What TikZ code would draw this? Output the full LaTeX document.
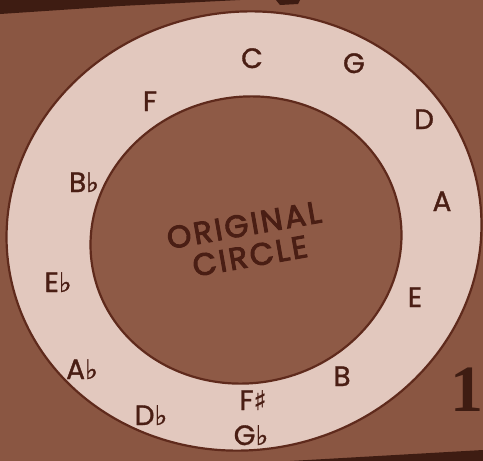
\documentclass[tikz,border=0pt]{standalone}
\usepackage{fontspec}
\setmainfont{Poppins}
\newfontfamily\labelfont{Poppins}[FakeBold=1.2]
\newfontfamily\titlefont{Poppins}[FakeBold=3, LetterSpace=8]
\newfontfamily\symfont{DejaVu Sans}[FakeBold=1.2]
\newfontfamily\numfont{Liberation Serif}
\usetikzlibrary{shapes.geometric}
\definecolor{bgbrown}{RGB}{138,86,66}
\definecolor{innerbrown}{RGB}{142,90,70}
\definecolor{ring}{RGB}{226,200,190}
\definecolor{edge}{RGB}{95,42,28}
\definecolor{ink}{RGB}{74,30,20}
\definecolor{shadow}{RGB}{62,28,18}
\newcommand{\fl}{{\symfont\fontsize{27}{27}\selectfont ♭}}
\newcommand{\shp}{{\symfont\fontsize{27}{27}\selectfont ♯}}
\tikzset{
  notelabel/.style={text=ink, font=\labelfont\fontsize{28}{28}\selectfont, inner sep=0pt, anchor=base},
  titletext/.style={text=ink, font=\titlefont\fontsize{31}{31}\selectfont, inner sep=0pt, rotate=10},
  ringshape/.style={ellipse, draw=edge, line width=2.2pt, inner sep=0pt, outer sep=0pt}
}
\begin{document}
\begin{tikzpicture}[x=1pt,y=-1pt]
\fill[bgbrown] (0,0) rectangle (483,461);
\useasboundingbox (0,0) rectangle (483,461);
% dark edges of the photo
\fill[shadow] (0,0) -- (240,0) -- (120,6) -- (0,14) -- cycle;
\fill[shadow] (276,0) -- (300,0) -- (298,4) -- (280,5) -- cycle;
\fill[shadow] (290,461) -- (483,450) -- (483,461) -- cycle;
% rings
\node[ringshape, fill=ring, minimum width=476pt, minimum height=438pt, rotate=10] (outer) at (244,231) {};
\node[ringshape, fill=innerbrown, minimum width=312pt, minimum height=286pt, rotate=12] (inner) at (246,240) {};
% labels
\node[notelabel] (c) at (252,68) {C};
\node[notelabel] (g) at (354,73) {G};
\node[notelabel] (d) at (424,129) {D};
\node[notelabel] (a) at (442,211) {A};
\node[notelabel] (e) at (415,307) {E};
\node[notelabel] (b) at (342,386) {B};
\node[notelabel] (fs) at (253,410) {F\shp};
\node[notelabel] (gb) at (251,445) {G\fl};
\node[notelabel] (db) at (151,425) {D\fl};
\node[notelabel] (ab) at (82,379) {A\fl};
\node[notelabel] (eb) at (58,292) {E\fl};
\node[notelabel] (bb) at (84,192) {B\fl};
\node[notelabel] (f) at (150,111) {F};
% title
\node[titletext] (orig) at (244,225) {ORIGINAL};
\node[titletext] (circ) at (250,256) {CIRCLE};
% page number
\node[text=shadow, font=\numfont\bfseries\fontsize{66}{66}\selectfont, inner sep=0pt] (num) at (467,390) {1};
\end{tikzpicture}
\end{document}
